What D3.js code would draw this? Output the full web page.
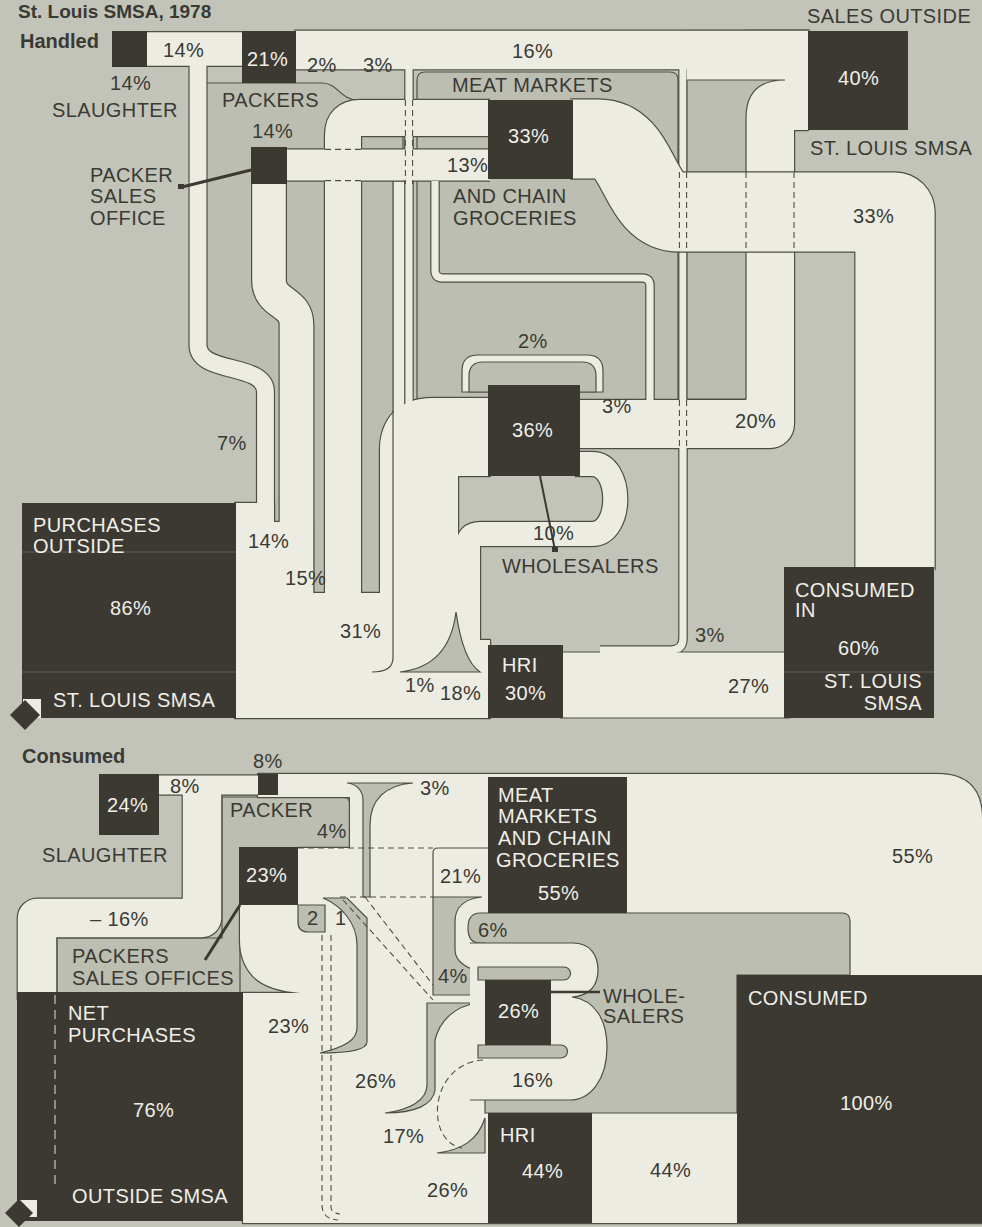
<!DOCTYPE html>
<html><head><meta charset="utf-8">
<script src="https://cdn.jsdelivr.net/npm/d3@7/dist/d3.min.js"></script>
<style>
html,body{margin:0;padding:0;background:#c3c4b9;}
svg{display:block;}
text{font-family:"Liberation Sans",Arial,Helvetica,sans-serif;}
</style></head><body>
<svg id="chart" width="982" height="1227" viewBox="0 0 982 1227"></svg>
<script>
/* ================= DATA ================= */
const chartTitle = "St. Louis SMSA, 1978";
const panelTitles = ["Handled", "Consumed"];

// Panel 1 : meat handled, percent
const handledNodeIds    = ["slaughter","packers","packerSales","meatMarkets","salesOutside","wholesalers","purchasesOutside","hri","consumedIn"];
const handledNodeValues = [14, 21, 14, 33, 40, 36, 86, 30, 60];
const handledNodeNames  = [["SLAUGHTER"],["PACKERS"],["PACKER","SALES","OFFICE"],["MEAT MARKETS","AND CHAIN","GROCERIES"],
                           ["SALES OUTSIDE","ST. LOUIS SMSA"],["WHOLESALERS"],["PURCHASES","OUTSIDE","ST. LOUIS SMSA"],["HRI"],
                           ["CONSUMED","IN","ST. LOUIS","SMSA"]];
const handledFlowIds    = ["slaToPack","packToOut","packToMeat","packToWhol","purToSla","purToPso","purToMeat","purToWhol","purToPack","purToHri",
                           "psoToMeat","meatToWhol","meatToWhol3","meatToCons","wholToOut","wholToHri","hriToOut","hriToCons"];
const handledFlowValues = [14, 16, 2, 3, 7, 14, 15, 31, 1, 18, 13, 2, 3, 33, 20, 10, 3, 27];

// Panel 2 : meat consumed, percent
const consumedNodeIds    = ["slaughter","packer","packerSales","meatMarkets","wholesalers","hri","netPurchases","consumed"];
const consumedNodeValues = [24, 8, 23, 55, 26, 44, 76, 100];
const consumedNodeNames  = [["SLAUGHTER"],["PACKER"],["PACKERS","SALES OFFICES"],["MEAT","MARKETS","AND CHAIN","GROCERIES"],
                            ["WHOLE-","SALERS"],["HRI"],["NET","PURCHASES","OUTSIDE SMSA"],["CONSUMED"]];
const consumedFlowIds    = ["slaToPack","netToSla","packToPso","packToWhol","psoToMeat","psoTwo","psoOne","netToPso","netToMeat",
                            "wholToMeat","wholToMeat4","netToWhol","wholToHri","netToHri","meatToCons","hriToCons"];
const consumedFlowValues = [8, -16, 4, 3, 21, 2, 1, 23, 26, 6, 4, 17, 16, 26, 55, 44];
const consumedFlowLabels = ["8%","– 16%","4%","3%","21%","2","1","23%","26%","6%","4%","17%","16%","26%","55%","44%"];

/* ================= LAYOUT (positions only) ================= */
const C = {bg:"#c3c4b9", gray:"#bdbeb2", cream:"#ecece2", dark:"#3c3933", line:"#4e4e47", ink:"#3a3a34", white:"#efefe8"};

const handledLayout = {
  boxes:{slaughter:[112,31,147,67], packers:[242,31,296,83], packerSales:[251,147,287,184], meatMarkets:[488,100,573,179],
         salesOutside:[808,31,908,130], wholesalers:[488,385,580,476], purchasesOutside:[22,503,236,718], hri:[488,645,563,718],
         consumedIn:[784,567,934,718]},
  value:{slaughter:[110,90,0], packers:[247,66,1], packerSales:[252,138,0], meatMarkets:[508,143,1], salesOutside:[838,85,1],
         wholesalers:[512,437,1], purchasesOutside:[110,615,1], hri:[505,700,1], consumedIn:[838,655,1]},
  names:{slaughter:[[52,117,0]], packers:[[222,107,0]], packerSales:[[90,182,0],[90,203,0],[90,225,0]],
         meatMarkets:[[452,92,0],[453,203,0],[453,225,0]], salesOutside:[[807,23,0],[810,155,0]], wholesalers:[[502,573,0]],
         purchasesOutside:[[33,532,1],[33,553,1],[53,707,1]], hri:[[502,672,1]],
         consumedIn:[[795,597,1],[795,617,1],[922,688,1,"end"],[922,710,1,"end"]]},
  flows:{
    slaToPack:{d:"M145,49 H245", layer:"u", label:[163,57]},
    packToOut:{d:"M294,50 H810", layer:"u", label:[512,58]},
    packToMeat:{label:[307,72]},
    packToWhol:{d:"M409,60 V432", layer:"u", label:[363,72]},
    purToSla:{d:"M265.5,600 V392 C265.5,362 198,375 198,345 V55", layer:"u", label:[217,450]},
    purToPso:{d:"M296.5,600 V325 C296.5,300 269,305 269,280 V182", layer:"u", label:[248,548]},
    purToMeat:{d:"M343,620 V135 Q343,118 360,118 H490", layer:"u", label:[285,585]},
    purToWhol:{region:"M380,700 V450 C380,418 400,398 432,398 H490 V476 H458 V700 Z", label:[340,638]},
    purToPack:{label:[405,692]},
    purToHri:{label:[440,700]},
    psoToMeat:{d:"M285,165 H490", layer:"u", label:[447,172]},
    meatToWhol:{label:[518,348]},
    meatToWhol3:{d:"M435,181 V270 Q435,278 443,278 H642 Q650,278 650,286 V404", layer:"u", label:[602,413]},
    meatToCons:{d:"M570,139 H598 C642,139 636,212 680,212 H895 V570", layer:"x", label:[853,223]},
    wholToOut:{d:"M578,424 H770 V60", layer:"u", label:[735,428]},
    wholToHri:{d:"M575,464 H592 C623,464 623,534 592,534 H480 Q468,534 468,546 V672", layer:"u", label:[533,540]},
    hriToOut:{d:"M683,60 V638 Q683,650 671,650 H600", layer:"u", label:[695,642]},
    hriToCons:{d:"M560,685 H790", layer:"u", label:[728,693]}
  },
  grayBase:[
    "M198,83 H322 C338,83 340,100 358,100 H403 V600 H265.5 V392 C265.5,362 198,375 198,345 Z",
    "M417,400 V80 Q417,72 425,72 H670 Q678,72 678,80 V400 Z"
  ],
  creamRegions:[
    "M235,718 V503 H274 V522 H313 V593 H380 V640 H490 V718 Z",
    "M687,31 H808 V80 H687 Z",
    "M746,31 H808 V130 H746 Z"
  ],
  overlays:[
    {d:"M687,399 V80 H785 C760,80 746,92 746,118 V399 Z", fill:"gray"},
    {d:"M462,392 V371 Q462,355 478,355 H587 Q603,355 603,371 V392 Z", fill:"cream"},
    {d:"M469,392 V376 Q469,362 483,362 H582 Q596,362 596,376 V392 Z", fill:"gray"},
    {d:"M394,182 H404 V450 H394 Z", fill:"cream", nostroke:true},
    {d:"M400,672 C436,668 452,645 456,612 C460,640 468,664 480,672 Z", fill:"gray"}
  ],
  dashes:[
    "M325,149.4 H361", "M325,180.6 H361",
    "M405.4,100 V184", "M412.6,100 V184",
    "M679.4,172 V252", "M686.6,172 V252", "M746,172 V252", "M794,172 V252",
    "M679.4,400 V448", "M686.6,400 V448"
  ],
  solids:["M393,181 V658 Q393,672 372,672"],
  leaders:[{d:"M182,187 L251,170", w:3}, {d:"M540,476 L555,550", w:2}],
  leaderDots:[[178,184,6,5],[552,547,6,5]],
  boxLines:["M22,552 H236","M22,672 H236","M784,672 H934"],
  diamond:[25,715,15], diamondSq:[23,699,18,19]
};

const consumedLayout = {
  boxes:{slaughter:[99,774,159,835], packer:[258,774,278,795], packerSales:[239,847,298,905], meatMarkets:[488,777,627,913],
         wholesalers:[485,980,551,1045], hri:[488,1113,592,1223], netPurchases:[17,992,243,1221], consumed:[737,975,982,1223]},
  value:{slaughter:[107,812,1], packer:[253,768,0], packerSales:[246,882,1], meatMarkets:[538,900,1], wholesalers:[498,1018,1],
         hri:[522,1178,1], netPurchases:[133,1117,1], consumed:[840,1110,1]},
  names:{slaughter:[[42,862,0]], packer:[[230,817,0]], packerSales:[[72,963,0],[72,985,0]],
         meatMarkets:[[498,802,1],[498,823,1],[498,845,1],[496,867,1]], wholesalers:[[603,1003,0],[603,1023,0]],
         hri:[[500,1142,1]], netPurchases:[[68,1020,1],[68,1042,1],[72,1203,1]], consumed:[[748,1005,1]]},
  flows:{
    slaToPack:{d:"M157,785 H262", layer:"u", label:[170,793]},
    netToSla:{d:"M202,790 V918 H37 V1000", layer:"u", label:[90,926]},
    packToPso:{label:[317,838]},
    packToWhol:{label:[420,795]},
    psoToMeat:{label:[440,883]},
    psoTwo:{label:[307,925]},
    psoOne:{label:[335,925]},
    netToPso:{label:[268,1033]},
    netToMeat:{label:[355,1088]},
    wholToMeat:{label:[478,937]},
    wholToMeat4:{label:[438,983]},
    netToWhol:{label:[383,1143]},
    wholToHri:{label:[512,1087]},
    netToHri:{label:[427,1197]},
    meatToCons:{label:[892,863]},
    hriToCons:{label:[650,1177]}
  },
  grayBase:["M188,797 H342 Q350,797 350,805 V848 H240 V993 H57 V938 H222 V797 Z"],
  creamRegions:["M258,774 H937 Q982,774 982,819 V1223 H243 V993 H300 Q266,990 253,976 Q240,962 240,940 V905 H298 V848 H350 V797 H258 Z"],
  overlays:[
    {d:"M347,783 H413 C385,785 370,800 370,825 V897 H363 V800 C363,790 356,784 347,783 Z", fill:"gray"},
    {d:"M323,898 H347 L367,918 V1042 C367,1050 350,1053 320,1053 C345,1047 357,1040 357,1028 V945 C357,922 340,905 323,898 Z", fill:"gray"},
    {d:"M298,905 H325 V932 H308 Q298,932 298,922 Z", fill:"gray"},
    {d:"M433,897 H482 C462,899 455,908 455,922 V950 C455,962 468,970 485,972 V995 H433 Z", fill:"gray"},
    {d:"M427,1003 H478 C455,1006 440,1020 435,1040 V1090 C433,1105 415,1113 385,1113 C410,1110 427,1100 427,1085 Z", fill:"gray"},
    {d:"M437,1153 C462,1150 478,1140 485,1118 V1153 Z", fill:"gray"},
    {d:"M480,913 H842 Q850,913 850,921 V975 H737 V1113 H485 V943 H480 Q468,943 468,928 Q468,913 480,913 Z", fill:"gray"},
    {d:"M470,943 H573 C590,943 598,955 598,970 C598,985 590,996 572,997 C595,1000 607,1020 607,1047 C607,1080 590,1100 570,1100 H470 Z", fill:"cream", open:true},
    {d:"M478,967 H564 A6.5,6.5 0 0 1 564,980 H478 Z", fill:"gray"},
    {d:"M478,1045 H561 A6.5,6.5 0 0 1 561,1058 H478 Z", fill:"gray"}
  ],
  dashes:[
    "M298,848 H433", "M340,897 H433",
    "M322,935 V1205 Q322,1219 338,1220", "M331,935 V1207 Q331,1213 340,1214",
    "M343,900 L433,1000", "M365,897 L433,985",
    "M483,1060 C428,1064 425,1142 462,1148"
  ],
  solids:["M433,897 V853 Q433,848 438,848 H488"],
  leaders:[{d:"M205,960 L240,905", w:3}, {d:"M551,992 H600", w:2.5}],
  leaderDots:[],
  boxLines:[],
  netDash:"M55,995 V1185",
  diamond:[19,1213,14], diamondSq:[20,1200,17,17]
};

/* ================= RENDER ================= */
const svg = d3.select("#chart");
const wScale = d3.scaleLinear().domain([0, 100]).range([0, 240]);   // flow band width per percent
const fillOf = k => k === "cream" ? C.cream : C.gray;

svg.append("rect").attr("width", 982).attr("height", 1227).attr("fill", C.bg);

svg.append("text").text(chartTitle).attr("x", 18).attr("y", 18)
  .attr("font-size", 19).attr("font-weight", "bold").attr("fill", C.ink);

function drawPanel(L, nodeIds, nodeValues, nodeNames, flowIds, flowValues, flowLabels, title, titlePos) {
  const g = svg.append("g");
  const gb = g.append("g");
  L.grayBase.forEach(d => gb.append("path").attr("d", d).attr("fill", C.gray).attr("stroke", C.line).attr("stroke-width", 1.2));

  // cream union layer: all outlines first, then all fills
  const uo = g.append("g"), uf = g.append("g");
  const addRegion = d => {
    uo.append("path").attr("d", d).attr("fill", "none").attr("stroke", C.line).attr("stroke-width", 2.4).attr("stroke-linejoin", "round");
    uf.append("path").attr("d", d).attr("fill", C.cream);
  };
  const addTube = (grpO, grpF, d, w) => {
    grpO.append("path").attr("d", d).attr("fill", "none").attr("stroke", C.line)
      .attr("stroke-width", w + 2.4).attr("stroke-linejoin", "round");
    grpF.append("path").attr("d", d).attr("fill", "none").attr("stroke", C.cream)
      .attr("stroke-width", w).attr("stroke-linejoin", "round");
  };
  L.creamRegions.forEach(addRegion);
  const cross = [];
  flowIds.forEach((id, i) => {
    const f = L.flows[id];
    if (!f) return;
    const w = wScale(Math.abs(flowValues[i]));
    if (f.region) addRegion(f.region);
    if (f.d && f.layer === "u") addTube(uo, uf, f.d, w);
    if (f.d && f.layer === "x") cross.push([f.d, w]);
  });

  const ov = g.append("g");
  L.overlays.forEach(o => {
    if (o.open) {
      ov.append("path").attr("d", o.d).attr("fill", fillOf(o.fill));
      ov.append("path").attr("d", o.d.replace(/ Z$/, "")).attr("fill", "none").attr("stroke", C.line).attr("stroke-width", 1.2);
    } else if (o.nostroke) {
      ov.append("path").attr("d", o.d).attr("fill", fillOf(o.fill));
    } else {
      ov.append("path").attr("d", o.d).attr("fill", fillOf(o.fill)).attr("stroke", C.line).attr("stroke-width", 1.2);
    }
  });

  const xo = g.append("g"), xf = g.append("g");
  cross.forEach(([d, w]) => addTube(xo, xf, d, w));

  const dg = g.append("g");
  L.dashes.forEach(d => dg.append("path").attr("d", d).attr("fill", "none").attr("stroke", C.line)
    .attr("stroke-width", 1.1).attr("stroke-dasharray", "6,4"));
  L.solids.forEach(d => dg.append("path").attr("d", d).attr("fill", "none").attr("stroke", C.line).attr("stroke-width", 1.2));

  const bg = g.append("g");
  nodeIds.forEach(id => {
    const b = L.boxes[id];
    bg.append("rect").attr("x", b[0]).attr("y", b[1]).attr("width", b[2] - b[0]).attr("height", b[3] - b[1]).attr("fill", C.dark);
  });
  L.boxLines.forEach(d => bg.append("path").attr("d", d).attr("stroke", "#55534b").attr("stroke-width", 1.5));
  if (L.netDash) bg.append("path").attr("d", L.netDash).attr("stroke", "#bdbdb2").attr("stroke-width", 1.3).attr("stroke-dasharray", "9,6");

  L.leaders.forEach(l => bg.append("path").attr("d", l.d).attr("stroke", C.dark).attr("stroke-width", l.w));
  L.leaderDots.forEach(r => bg.append("rect").attr("x", r[0]).attr("y", r[1]).attr("width", r[2]).attr("height", r[3]).attr("fill", C.dark));

  const s = L.diamondSq;
  bg.append("rect").attr("x", s[0]).attr("y", s[1]).attr("width", s[2]).attr("height", s[3]).attr("fill", C.cream);
  const dm = L.diamond;
  bg.append("path").attr("d", `M${dm[0]},${dm[1]-dm[2]} L${dm[0]+dm[2]},${dm[1]} L${dm[0]},${dm[1]+dm[2]} L${dm[0]-dm[2]},${dm[1]} Z`).attr("fill", C.dark);

  const tg = g.append("g").attr("font-size", 20).attr("letter-spacing", 0.4);
  const txt = (s, p) => tg.append("text").text(s).attr("x", p[0]).attr("y", p[1])
      .attr("fill", p[2] ? C.white : C.ink).attr("text-anchor", p[3] || "start");
  nodeIds.forEach((id, i) => {
    txt(nodeValues[i] + "%", L.value[id]);
    nodeNames[i].forEach((line, j) => txt(line, L.names[id][j]));
  });
  flowIds.forEach((id, i) => {
    const f = L.flows[id];
    if (f && f.label) txt(flowLabels ? flowLabels[i] : flowValues[i] + "%", f.label);
  });
  g.append("text").text(title).attr("x", titlePos[0]).attr("y", titlePos[1])
    .attr("font-size", 20).attr("font-weight", "bold").attr("fill", C.ink);
}

drawPanel(handledLayout, handledNodeIds, handledNodeValues, handledNodeNames, handledFlowIds, handledFlowValues, null, panelTitles[0], [20,48]);
drawPanel(consumedLayout, consumedNodeIds, consumedNodeValues, consumedNodeNames, consumedFlowIds, consumedFlowValues, consumedFlowLabels, panelTitles[1], [22,763]);
</script>
</body></html>
